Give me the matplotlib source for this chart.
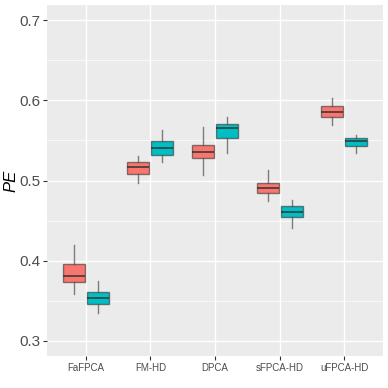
import matplotlib
matplotlib.use("Agg")
import matplotlib.pyplot as plt
import numpy as np

METHODS = ["FaFPCA", "FM-HD", "DPCA", "sFPCA-HD", "uFPCA-HD"]

# five-number summaries: (lower whisker, q1, median, q3, upper whisker)
RED_WHISLO = [0.358, 0.4975, 0.5075, 0.475, 0.5688]
RED_Q1 = [0.373, 0.5084, 0.5275, 0.4841, 0.5796]
RED_MED = [0.381, 0.5171, 0.5359, 0.4904, 0.5859]
RED_Q3 = [0.396, 0.5229, 0.5446, 0.4966, 0.5929]
RED_WHISHI = [0.419, 0.530, 0.5667, 0.5129, 0.6034]

CYAN_WHISLO = [0.335, 0.5229, 0.5346, 0.4409, 0.5346]
CYAN_Q1 = [0.346, 0.5316, 0.5534, 0.4546, 0.5434]
CYAN_MED = [0.353, 0.540, 0.5659, 0.4609, 0.5496]
CYAN_Q3 = [0.361, 0.5488, 0.5709, 0.468, 0.5529]
CYAN_WHISHI = [0.375, 0.5629, 0.5796, 0.4763, 0.5571]

Y_TICKS = [0.3, 0.4, 0.5, 0.6, 0.7]

COLOR_RED = "#F8766D"
COLOR_CYAN = "#00BFC4"
PANEL_BG = "#EBEBEB"


def make_stats(lo, q1, med, q3, hi):
    return [
        {"whislo": a, "q1": b, "med": c, "q3": d, "whishi": e, "fliers": []}
        for a, b, c, d, e in zip(lo, q1, med, q3, hi)
    ]


def main() -> None:
    plt.rcParams["font.family"] = ["Liberation Sans", "DejaVu Sans"]

    fig = plt.figure(figsize=(3.88, 3.88), dpi=100)
    ax = fig.add_axes([0.121, 0.0825, 0.866, 0.9045])
    ax.set_facecolor(PANEL_BG)

    x = np.arange(len(METHODS))
    groups = [
        (make_stats(RED_WHISLO, RED_Q1, RED_MED, RED_Q3, RED_WHISHI), COLOR_RED, -0.185),
        (make_stats(CYAN_WHISLO, CYAN_Q1, CYAN_MED, CYAN_Q3, CYAN_WHISHI), COLOR_CYAN, 0.185),
    ]
    for stats, color, offset in groups:
        ax.bxp(
            stats,
            positions=x + offset,
            widths=0.34,
            patch_artist=True,
            showcaps=False,
            showfliers=False,
            boxprops={"facecolor": color, "edgecolor": (0.2, 0.2, 0.2, 0.6), "linewidth": 1.0},
            medianprops={"color": (0.2, 0.2, 0.2, 0.85), "linewidth": 1.3},
            whiskerprops={"color": (0.3, 0.3, 0.3, 0.7), "linewidth": 1.0},
            zorder=3,
        )

    ax.set_xlim(-0.6, len(METHODS) - 0.4)
    ax.set_ylim(0.281, 0.719)
    ax.set_xticks(x)
    ax.set_xticklabels(METHODS, fontsize=7, color="#4D4D4D")
    ax.set_yticks(Y_TICKS)
    ax.set_yticklabels([f"{v:.1f}" for v in Y_TICKS], fontsize=11, color="#4D4D4D")
    ax.set_yticks([0.35, 0.45, 0.55, 0.65], minor=True)
    ax.tick_params(axis="both", which="major", length=3, width=0.8, color="#333333", pad=2)
    ax.tick_params(axis="y", which="minor", length=0)

    ax.grid(which="major", color="white", lw=1.0, zorder=0)
    ax.grid(which="minor", axis="y", color="white", lw=0.5, zorder=0)
    ax.set_axisbelow(True)
    for spine in ax.spines.values():
        spine.set_visible(False)

    ax.set_ylabel("PE", fontsize=12, style="italic", labelpad=0.5)

    fig.savefig("out.png", dpi=100)
    plt.close(fig)


if __name__ == "__main__":
    main()
